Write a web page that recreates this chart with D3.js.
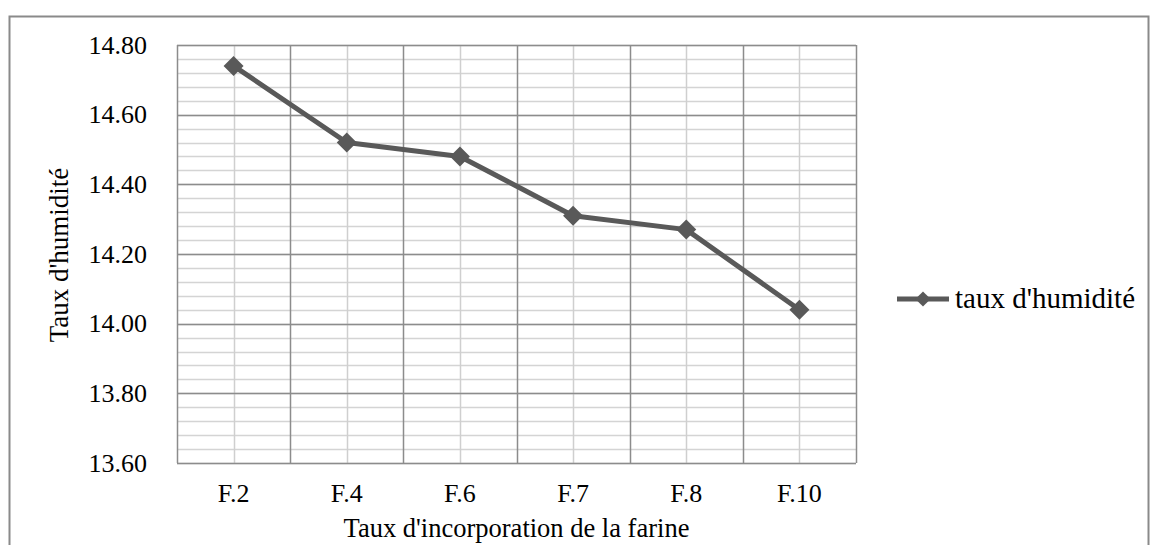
<!DOCTYPE html>
<html>
<head>
<meta charset="utf-8">
<script src="https://cdnjs.cloudflare.com/ajax/libs/d3/7.8.5/d3.min.js"></script>
<style>
  body { margin: 0; background: #fff; }
  text { font-family: "Liberation Serif", "Times New Roman", serif; fill: #000; }
</style>
</head>
<body>
<div class="chart"></div>
<script>
(function() {
  var categories = ['F.2', 'F.4', 'F.6', 'F.7', 'F.8', 'F.10'];
  var humidite = [14.74, 14.52, 14.48, 14.31, 14.27, 14.04];
  var yTicks = [13.60, 13.80, 14.00, 14.20, 14.40, 14.60, 14.80];
  var seriesName = "taux d'humidité";

  var opts = { width: 1150, height: 545 };
  var plot = { left: 177, top: 45, right: 856, bottom: 463 };

  var svg = d3.select('.chart').append('svg')
    .attr('width', opts.width)
    .attr('height', opts.height);

  // outer chart frame
  svg.append('rect')
    .attr('x', 9.5).attr('y', 16.5)
    .attr('width', 1139).attr('height', 560)
    .attr('fill', 'none')
    .attr('stroke', '#8a8a8a')
    .attr('stroke-width', 2);

  var x = d3.scaleBand().domain(categories)
    .range([plot.left, plot.right]).padding(0);
  var y = d3.scaleLinear().domain([13.6, 14.8])
    .range([plot.bottom, plot.top]);

  // minor horizontal grid
  var minor = d3.range(0, 31).map(function(i) { return 13.6 + i * 0.04; });
  svg.append('g').selectAll('line').data(minor)
    .enter().append('line')
    .attr('x1', plot.left).attr('x2', plot.right)
    .attr('y1', function(d) { return Math.round(y(d)) + 0.5; })
    .attr('y2', function(d) { return Math.round(y(d)) + 0.5; })
    .attr('stroke', '#d4d4d4').attr('stroke-width', 1.5);

  // minor vertical grid at category centres
  svg.append('g').selectAll('line').data(categories)
    .enter().append('line')
    .attr('x1', function(d) { return Math.round(x(d) + x.bandwidth() / 2) + 0.5; })
    .attr('x2', function(d) { return Math.round(x(d) + x.bandwidth() / 2) + 0.5; })
    .attr('y1', plot.top).attr('y2', plot.bottom)
    .attr('stroke', '#cfcfcf').attr('stroke-width', 1.5);

  // major horizontal grid
  svg.append('g').selectAll('line').data(yTicks)
    .enter().append('line')
    .attr('x1', plot.left).attr('x2', plot.right)
    .attr('y1', function(d) { return Math.round(y(d)) + 0.5; })
    .attr('y2', function(d) { return Math.round(y(d)) + 0.5; })
    .attr('stroke', '#8c8c8c').attr('stroke-width', 1.5);

  // major vertical grid at category edges
  var edges = categories.map(function(c) { return x(c); }).concat([plot.right]);
  svg.append('g').selectAll('line').data(edges)
    .enter().append('line')
    .attr('x1', function(d) { return Math.round(d) + 0.5; })
    .attr('x2', function(d) { return Math.round(d) + 0.5; })
    .attr('y1', plot.top).attr('y2', plot.bottom)
    .attr('stroke', '#8c8c8c').attr('stroke-width', 1.5);

  // y axis labels
  var yAxis = d3.axisLeft(y).tickValues(yTicks)
    .tickFormat(d3.format('.2f')).tickSize(0).tickPadding(30);
  var gy = svg.append('g').attr('transform', 'translate(' + plot.left + ',0)').call(yAxis);
  gy.select('.domain').remove();
  gy.selectAll('text').style('font-size', '26px').style('font-family', '"Liberation Serif", serif');

  // x axis labels
  var xAxis = d3.axisBottom(x).tickSize(0).tickPadding(21);
  var gx = svg.append('g').attr('transform', 'translate(0,' + plot.bottom + ')').call(xAxis);
  gx.select('.domain').remove();
  gx.selectAll('text').style('font-size', '26px').style('font-family', '"Liberation Serif", serif');

  // axis titles
  svg.append('text')
    .attr('x', (plot.left + plot.right) / 2).attr('y', 537)
    .attr('text-anchor', 'middle')
    .style('font-size', '26.5px')
    .text("Taux d'incorporation de la farine");

  svg.append('text')
    .attr('transform', 'translate(68,' + 255 + ') rotate(-90)')
    .attr('text-anchor', 'middle')
    .style('font-size', '27px')
    .text("Taux d'humidité");

  // series line
  var line = d3.line()
    .x(function(d, i) { return x(categories[i]) + x.bandwidth() / 2; })
    .y(function(d) { return y(d); });

  svg.append('path').datum(humidite)
    .attr('d', line)
    .attr('fill', 'none')
    .attr('stroke', '#595959')
    .attr('stroke-width', 5)
    .attr('stroke-linejoin', 'round');

  var diamond = d3.symbol().type(d3.symbolSquare).size(200);
  svg.append('g').selectAll('path').data(humidite)
    .enter().append('path')
    .attr('d', diamond)
    .attr('transform', function(d, i) {
      return 'translate(' + (x(categories[i]) + x.bandwidth() / 2) + ',' + y(d) + ') rotate(45)';
    })
    .attr('fill', '#595959');

  // legend
  var lg = svg.append('g').attr('transform', 'translate(897,299)');
  lg.append('line').attr('x1', 0).attr('x2', 52).attr('y1', 0).attr('y2', 0)
    .attr('stroke', '#595959').attr('stroke-width', 5);
  lg.append('path').attr('d', d3.symbol().type(d3.symbolSquare).size(115))
    .attr('transform', 'translate(26,0) rotate(45)').attr('fill', '#595959');
  lg.append('text').attr('x', 58).attr('y', 9)
    .style('font-size', '29px')
    .text(seriesName);
})();
</script>
</body>
</html>
